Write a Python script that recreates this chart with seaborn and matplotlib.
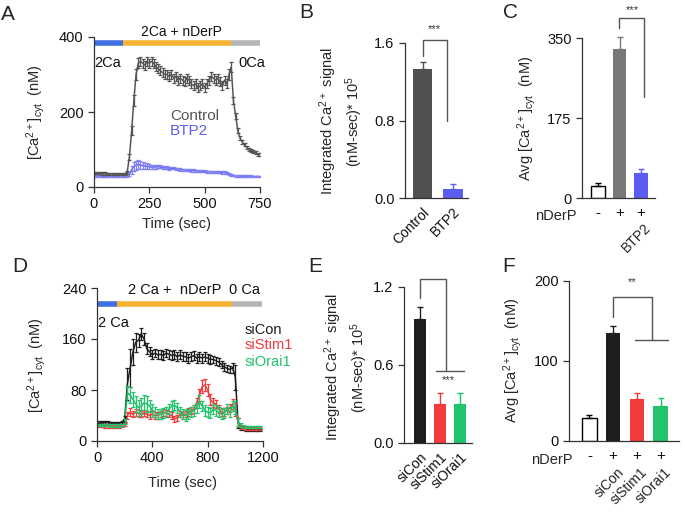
import numpy as np
import pandas as pd
import matplotlib
matplotlib.use("Agg")
import matplotlib.pyplot as plt
import seaborn as sns
from matplotlib.transforms import blended_transform_factory as btf

# ---------------- data ----------------
# Panel A: time course (sampled every 10 s)
tA = np.arange(0, 760, 10)
ctrlA = [38, 37, 37, 36, 36, 36, 35, 35, 35, 35, 35, 34, 34, 34, 35,
         40, 80, 150, 230, 300, 330, 335, 330, 325, 335,
         330, 335, 330, 320, 315, 310, 305, 300, 300, 295,
         300, 290, 295, 285, 290, 285, 280, 290, 285, 275,
         270, 275, 265, 270, 275, 265, 275, 285, 295, 290,
         285, 290, 280, 270, 285, 275, 300, 320, 230, 190,
         150, 130, 120, 112, 106, 100, 97, 94, 91, 88, 86]
ctrlA_err = [3, 3, 3, 3, 3, 3, 3, 3, 3, 3, 3, 3, 3, 3, 3,
             4, 8, 12, 14, 14, 14, 12, 12, 12, 12,
             12, 12, 12, 12, 12, 12, 12, 12, 12, 12,
             12, 12, 12, 12, 12, 12, 12, 12, 12, 12,
             12, 12, 12, 12, 12, 12, 12, 12, 12, 12,
             12, 12, 12, 12, 12, 12, 14, 14, 10, 8,
             6, 5, 5, 4, 4, 4, 4, 4, 4, 4, 4]
btpA = [30, 30, 30, 30, 30, 30, 30, 30, 30, 30, 30, 30, 30, 30, 30,
        31, 35, 45, 55, 58, 60, 58, 57, 56, 55,
        54, 53, 53, 54, 55, 54, 52, 51, 51, 50,
        50, 50, 49, 48, 47, 46, 46, 45, 45, 44,
        44, 43, 43, 42, 42, 42, 41, 41, 41, 40,
        40, 40, 40, 39, 39, 37, 35, 33, 31, 30,
        30, 30, 29, 29, 29, 29, 29, 28, 28, 28, 28]
btpA_err = [2, 2, 2, 2, 2, 2, 2, 2, 2, 2, 2, 2, 2, 2, 2,
            3, 6, 10, 12, 12, 12, 11, 10, 9, 8,
            7, 6, 5, 5, 5, 4, 4, 4, 4, 4,
            3, 3, 3, 3, 3, 3, 3, 3, 3, 3,
            3, 3, 3, 3, 3, 3, 3, 3, 3, 3,
            3, 3, 3, 3, 3, 3, 3, 3, 2, 2,
            2, 2, 2, 2, 2, 2, 2, 2, 2, 2, 2]

# Panel B
B_cats = ["Control", "BTP2"]
B_vals = [1.33, 0.093]
B_errs = [0.07, 0.052]

# Panel C
C_cats = ["none", "nDerP", "BTP2"]
C_vals = [27, 326, 55]
C_errs = [5, 26, 8]
C_signs = ["-", "+", "+"]

# Panel D: time course (sampled every 20 s)
tD = np.arange(0, 1200, 20)
siCon = [30, 30, 29, 29, 29, 28, 28, 28, 28, 29,
         35, 90, 115, 140, 155, 158, 168, 160, 145, 140,
         135, 138, 135, 136, 134, 138, 136, 134, 136, 132,
         135, 133, 132, 130, 132, 134, 130, 132, 130, 132,
         130, 128, 128, 126, 124, 120, 116, 114, 112, 115,
         100, 28, 20, 19, 18, 18, 17, 17, 17, 17]
siCon_err = [2, 2, 2, 2, 2, 2, 2, 2, 2, 2,
             5, 25, 30, 20, 15, 10, 10, 10, 8, 7,
             7, 7, 7, 7, 7, 7, 7, 7, 7, 7,
             7, 7, 7, 7, 7, 7, 7, 7, 7, 7,
             7, 7, 6, 6, 6, 6, 6, 6, 6, 8,
             20, 8, 3, 2, 2, 2, 2, 2, 2, 2]
siStim1 = [24, 24, 24, 23, 23, 23, 23, 23, 23, 24,
           26, 40, 45, 42, 45, 43, 42, 44, 42, 40,
           42, 40, 40, 42, 45, 44, 42, 40, 35, 36,
           42, 40, 42, 45, 48, 50, 60, 72, 85, 88,
           80, 65, 60, 58, 50, 45, 45, 48, 52, 58,
           50, 30, 22, 21, 20, 20, 20, 20, 20, 20]
siStim1_err = [2, 2, 2, 2, 2, 2, 2, 2, 2, 2,
               3, 6, 6, 5, 5, 5, 5, 5, 5, 5,
               5, 5, 5, 5, 5, 5, 5, 5, 5, 5,
               5, 5, 5, 6, 6, 6, 8, 10, 10, 10,
               10, 8, 7, 6, 6, 6, 6, 6, 6, 8,
               10, 6, 3, 2, 2, 2, 2, 2, 2, 2]
siOrai1 = [25, 25, 25, 25, 25, 24, 24, 24, 24, 25,
           30, 75, 72, 65, 58, 52, 55, 60, 58, 55,
           48, 45, 42, 42, 44, 45, 50, 55, 56, 52,
           46, 42, 40, 42, 45, 48, 52, 62, 55, 48,
           45, 44, 50, 48, 45, 42, 44, 50, 45, 55,
           52, 30, 25, 23, 22, 22, 22, 22, 22, 22]
siOrai1_err = [2, 2, 2, 2, 2, 2, 2, 2, 2, 2,
               4, 12, 12, 12, 12, 12, 12, 12, 12, 10,
               10, 8, 8, 8, 8, 8, 8, 8, 8, 8,
               8, 8, 8, 8, 8, 8, 8, 10, 8, 8,
               8, 8, 8, 8, 8, 8, 8, 8, 8, 8,
               10, 6, 3, 2, 2, 2, 2, 2, 2, 2]

# Panel E
E_cats = ["siCon", "siStim1", "siOrai1"]
E_vals = [0.955, 0.30, 0.30]
E_errs = [0.095, 0.085, 0.085]

# Panel F
F_cats = ["none", "siCon", "siStim1", "siOrai1"]
F_vals = [29, 135, 52, 44]
F_errs = [4, 9, 8, 10]
F_signs = ["-", "+", "+", "+"]

# ---------------- style ----------------
sns.set_theme(style="ticks")
plt.rcParams["font.family"] = ["Liberation Sans", "DejaVu Sans"]
plt.rcParams["mathtext.default"] = "regular"
plt.rcParams["axes.linewidth"] = 0.9

DARK = "#333333"
GRAYLINE = "#555555"
BLUE = "#5c5cf2"
BLUE_ERR = "#8080f6"
RED = "#f23c3c"
GREEN = "#20c46c"
BLACK = "#1e1e1e"
STIM_BLUE = "#3f6fe0"
STIM_ORANGE = "#f7b433"
STIM_GRAY = "#b5b5b5"

W, H = 685, 517
fig = plt.figure(figsize=(W / 100, H / 100), dpi=100)


def add_ax(x0, x1, yb, yt):
    ax = fig.add_axes([x0 / W, 1 - yb / H, (x1 - x0) / W, (yb - yt) / H])
    ax.patch.set_alpha(0)
    return ax


def style(ax, xlim, ylim, yticks, xticks=None):
    ax.set_xlim(*xlim)
    ax.set_ylim(*ylim)
    ax.set_yticks(yticks)
    sns.despine(ax=ax)
    for s in ("left", "bottom"):
        ax.spines[s].set_color(DARK)
        ax.spines[s].set_linewidth(0.9)
    ax.spines["left"].set_bounds(ylim[0], ylim[1])
    ax.tick_params(axis="both", direction="out", length=4.5, width=0.9,
                   color=DARK, labelsize=10.5, pad=3, labelcolor="#111111")
    if xticks is not None:
        ax.set_xticks(xticks)
        ax.spines["bottom"].set_bounds(xlim[0], xlim[1])
    ax.set_xlabel("")
    ax.set_ylabel("")


def ftext(x, y, s, **kw):
    fig.text(x / W, 1 - y / H, s, **kw)


def bar_panel(ax, cats, vals, errs, colors, width):
    df = pd.DataFrame({"cond": cats, "val": vals})
    sns.barplot(data=df, x="cond", y="val", hue="cond", palette=colors,
                width=width, saturation=1, errorbar=None, legend=False, ax=ax,
                linewidth=0)
    for i, p in enumerate(ax.patches):
        if colors[i] == "white":
            p.set_edgecolor("black")
            p.set_linewidth(1.0)
    for i, (v, e) in enumerate(zip(vals, errs)):
        ec = "black" if colors[i] == "white" else colors[i]
        ax.errorbar([i], [v], yerr=[[0], [e]], fmt="none", ecolor=ec,
                    elinewidth=1.0, capsize=2.5, capthick=1.0, clip_on=False)


def bracket(ax, xs, ys):
    ax.plot(xs, ys, color="#555555", lw=1.0, clip_on=False)


EB = dict(fmt="none", elinewidth=0.9, capsize=1.5, capthick=0.9)

# ---------------- Panel A ----------------
axA = add_ax(94, 260, 187, 37)
dfA = pd.DataFrame({"t": np.concatenate([tA, tA]),
                    "v": ctrlA + btpA,
                    "g": ["Control"] * len(tA) + ["BTP2"] * len(tA)})
sns.lineplot(data=dfA, x="t", y="v", hue="g",
             palette={"Control": GRAYLINE, "BTP2": BLUE},
             errorbar=None, legend=False, lw=1.1, ax=axA)
axA.errorbar(tA, btpA, yerr=btpA_err, ecolor=BLUE_ERR, **EB)
axA.errorbar(tA, ctrlA, yerr=ctrlA_err, ecolor=GRAYLINE, **EB)
for (a, b, c) in [(0, 131, STIM_BLUE), (131, 619, STIM_ORANGE), (619, 750, STIM_GRAY)]:
    axA.plot([a, b], [384, 384], color=c, lw=4, solid_capstyle="butt", clip_on=False)
style(axA, (0, 750), (0, 400), [0, 200, 400], xticks=[0, 250, 500, 750])
axA.text(393, 413, "2Ca + nDerP", ha="center", va="center", fontsize=10, color="#111111")
axA.text(3, 331, "2Ca", ha="left", va="center", fontsize=10.5, color="#111111")
axA.text(651, 331, "0Ca", ha="left", va="center", fontsize=10.5, color="#111111")
axA.text(343, 189, "Control", ha="left", va="center", fontsize=11, color=GRAYLINE)
axA.text(343, 149, "BTP2", ha="left", va="center", fontsize=11, color=BLUE)
ftext(36, 112, r"[Ca$^{2+}$]$_{cyt}$  (nM)", rotation=90, ha="center", va="center", fontsize=10.5)
ftext(177, 224, "Time (sec)", ha="center", va="center", fontsize=10.5)
ftext(8, 14, "A", ha="center", va="center", fontsize=15)

# ---------------- Panel B ----------------
axB = add_ax(405, 468, 198, 43)
bar_panel(axB, B_cats, B_vals, B_errs, ["#505050", BLUE], 0.64)
style(axB, (-0.574, 1.49), (0, 1.6), [0, 0.8, 1.6])
axB.set_yticklabels(["0.0", "0.8", "1.6"])
axB.set_xticks([0, 1])
axB.set_xticklabels(B_cats, rotation=45, ha="right", rotation_mode="anchor", fontsize=10)
axB.tick_params(axis="x", length=0, pad=5)
bracket(axB, [0, 0, 0.80, 0.80], [1.47, 1.63, 1.63, 0.80])
axB.text(0.38, 1.74, "***", ha="center", va="center", fontsize=8, color=DARK)
ftext(341, 121, "Integrated Ca$^{2+}$ signal\n(nM-sec)* 10$^{5}$", rotation=90,
      ha="center", va="center", multialignment="center", fontsize=10.5, linespacing=1.3)
ftext(306, 12, "B", ha="center", va="center", fontsize=15)

# ---------------- Panel C ----------------
axC = add_ax(582, 655, 198, 38)
bar_panel(axC, C_cats, C_vals, C_errs, ["white", "#787878", BLUE], 0.62)
style(axC, (-0.744, 2.65), (0, 350), [0, 175, 350])
axC.set_xticks([0, 1, 2])
axC.set_xticklabels(C_signs, fontsize=11)
axC.tick_params(axis="x", length=0, pad=6)
trC = btf(axC.transData, axC.transAxes)
axC.text(2.15, -0.14, "BTP2", transform=trC, rotation=45, ha="right", va="top",
         rotation_mode="anchor", fontsize=10)
axC.text(-1.95, -0.115, "nDerP", transform=trC, ha="center", va="center", fontsize=10.5)
bracket(axC, [0.98, 0.98, 2.12, 2.12], [372, 394, 394, 221])
axC.text(1.58, 411, "***", ha="center", va="center", fontsize=8, color=DARK)
ftext(527, 118, r"Avg [Ca$^{2+}$]$_{cyt}$  (nM)", rotation=90, ha="center", va="center", fontsize=10.5)
ftext(510, 12, "C", ha="center", va="center", fontsize=15)

# ---------------- Panel D ----------------
axD = add_ax(97, 263, 441, 288)
n = len(tD)
dfD = pd.DataFrame({"t": np.concatenate([tD, tD, tD]),
                    "v": siCon + siStim1 + siOrai1,
                    "g": ["siCon"] * n + ["siStim1"] * n + ["siOrai1"] * n})
sns.lineplot(data=dfD, x="t", y="v", hue="g",
             palette={"siCon": BLACK, "siStim1": RED, "siOrai1": GREEN},
             errorbar=None, legend=False, lw=1.1, ax=axD)
axD.errorbar(tD, siCon, yerr=siCon_err, ecolor=BLACK, **EB)
axD.errorbar(tD, siStim1, yerr=siStim1_err, ecolor=RED, **EB)
axD.errorbar(tD, siOrai1, yerr=siOrai1_err, ecolor=GREEN, **EB)
for (a, b, c) in [(0, 145, STIM_BLUE), (145, 976, STIM_ORANGE), (976, 1190, STIM_GRAY)]:
    axD.plot([a, b], [215, 215], color=c, lw=4, solid_capstyle="butt", clip_on=False)
style(axD, (0, 1200), (0, 240), [0, 80, 160, 240], xticks=[0, 400, 800, 1200])
axD.text(564, 237, "2 Ca +  nDerP", ha="center", va="center", fontsize=10.5, color="#111111")
axD.text(1063, 237, "0 Ca", ha="center", va="center", fontsize=10.5, color="#111111")
axD.text(7, 185, "2 Ca", ha="left", va="center", fontsize=10.5, color="#111111")
axD.text(1070, 174, "siCon", ha="left", va="center", fontsize=10.5, color=BLACK, clip_on=False)
axD.text(1070, 151, "siStim1", ha="left", va="center", fontsize=10.5, color=RED, clip_on=False)
axD.text(1070, 124, "siOrai1", ha="left", va="center", fontsize=10.5, color=GREEN, clip_on=False)
ftext(37, 365, r"[Ca$^{2+}$]$_{cyt}$  (nM)", rotation=90, ha="center", va="center", fontsize=10.5)
ftext(182, 483, "Time (sec)", ha="center", va="center", fontsize=10.5)
ftext(20, 267, "D", ha="center", va="center", fontsize=15)

# ---------------- Panel E ----------------
axE = add_ax(404, 472, 443, 287)
bar_panel(axE, E_cats, E_vals, E_errs, [BLACK, RED, GREEN], 0.6)
style(axE, (-0.8, 2.6), (0, 1.2), [0, 0.6, 1.2])
axE.set_yticklabels(["0.0", "0.6", "1.2"])
axE.set_xticks([0, 1, 2])
axE.set_xticklabels(E_cats, rotation=45, ha="right", rotation_mode="anchor", fontsize=10)
axE.tick_params(axis="x", length=0, pad=5)
bracket(axE, [0, 0, 1.3, 1.3], [1.115, 1.26, 1.26, 0.554])
bracket(axE, [0.8, 2.2], [0.554, 0.554])
axE.text(1.4, 0.485, "***", ha="center", va="center", fontsize=8, color=DARK)
ftext(346, 367, "Integrated Ca$^{2+}$ signal\n(nM-sec)* 10$^{5}$", rotation=90,
      ha="center", va="center", multialignment="center", fontsize=10.5, linespacing=1.3)
ftext(315, 267, "E", ha="center", va="center", fontsize=15)

# ---------------- Panel F ----------------
axF = add_ax(569, 679, 441, 281)
bar_panel(axF, F_cats, F_vals, F_errs, ["white", BLACK, RED, GREEN], 0.61)
style(axF, (-0.865, 3.78), (0, 200), [0, 100, 200])
axF.set_xticks([0, 1, 2, 3])
axF.set_xticklabels(F_signs, fontsize=11)
axF.tick_params(axis="x", length=0, pad=6)
trF = btf(axF.transData, axF.transAxes)
for i, lab in enumerate(F_cats[1:], start=1):
    axF.text(i + 0.15, -0.15, lab, transform=trF, rotation=45, ha="right", va="top",
             rotation_mode="anchor", fontsize=10)
axF.text(-1.6, -0.12, "nDerP", transform=trF, ha="center", va="center", fontsize=10.5)
bracket(axF, [1, 1, 2.64, 2.64], [155, 180, 180, 126])
bracket(axF, [1.92, 3.31], [126, 126])
axF.text(1.79, 199, "**", ha="center", va="center", fontsize=8, color=DARK)
ftext(513, 360, r"Avg [Ca$^{2+}$]$_{cyt}$  (nM)", rotation=90, ha="center", va="center", fontsize=10.5)
ftext(509, 267, "F", ha="center", va="center", fontsize=15)

fig.savefig("out.png", dpi=100)
